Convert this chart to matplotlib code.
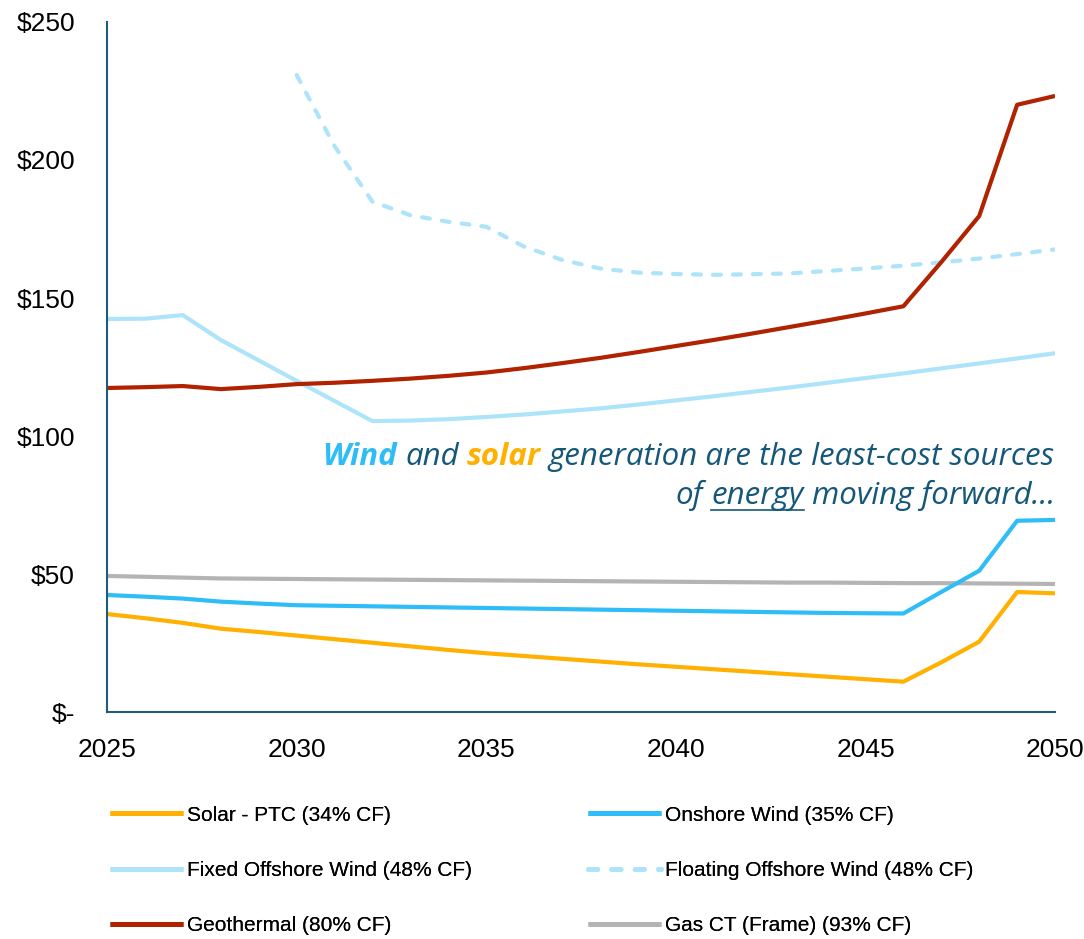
import matplotlib
matplotlib.use('Agg')
import matplotlib.pyplot as plt
from matplotlib.lines import Line2D

years = list(range(2025, 2051))

solar = [35.5, 34.0, 32.3, 30.2, 29.0, 27.7, 26.4, 25.1, 23.8, 22.5, 21.3, 20.3, 19.3,
         18.3, 17.3, 16.4, 15.5, 14.6, 13.7, 12.8, 11.9, 11.0, 18.0, 25.5, 43.5, 43.0]
onshore = [42.4, 41.8, 41.1, 40.0, 39.3, 38.7, 38.5, 38.3, 38.1, 37.9, 37.7, 37.5, 37.3,
           37.1, 36.9, 36.7, 36.5, 36.3, 36.1, 35.9, 35.8, 35.7, 43.5, 51.2, 69.3, 69.6]
fixed_off = [142.4, 142.5, 143.8, 134.8, 127.4, 120.0, 112.7, 105.4, 105.6, 106.1, 106.9,
             107.8, 108.9, 110.0, 111.4, 112.9, 114.4, 116.0, 117.6, 119.3, 121.0, 122.7,
             124.5, 126.3, 128.1, 130.0]
floating_years = list(range(2030, 2051))
floating_off = [230.8, 205.0, 184.9, 180.0, 177.6, 175.8, 168.6, 163.8, 160.7, 159.2, 158.7,
                158.4, 158.6, 158.9, 159.8, 160.7, 161.7, 162.9, 164.3, 165.9, 167.6]
geothermal = [117.4, 117.7, 118.1, 117.0, 117.8, 118.8, 119.3, 120.0, 120.8, 121.8, 123.0,
              124.6, 126.4, 128.3, 130.4, 132.6, 134.8, 137.1, 139.5, 141.9, 144.4, 147.0,
              163.0, 179.7, 220.0, 223.2]
gas = [49.3, 49.0, 48.7, 48.4, 48.3, 48.2, 48.1, 48.0, 47.9, 47.8, 47.7, 47.6, 47.5,
       47.4, 47.3, 47.2, 47.1, 47.0, 46.9, 46.9, 46.8, 46.7, 46.7, 46.6, 46.5, 46.4]

labels = ['Solar - PTC (34% CF)', 'Onshore Wind (35% CF)', 'Fixed Offshore Wind (48% CF)',
          'Floating Offshore Wind (48% CF)', 'Geothermal (80% CF)', 'Gas CT (Frame) (93% CF)']
colors = ['#FFB000', '#2EBDF6', '#AEE4FA', '#AEE4FA', '#B02200', '#B4B4B4']

yticks = [0, 50, 100, 150, 200, 250]
ytick_labels = ['$-', '$50', '$100', '$150', '$200', '$250']
xticks = [2025, 2030, 2035, 2040, 2045, 2050]

spine_col = '#1F5C7C'
text_col = '#155779'
dash = (1.9, 2.9)

fig = plt.figure(figsize=(10.84, 9.39), dpi=100)
ax = fig.add_axes([0.0987, 0.2417, 0.8746, 0.7349])

ax.plot(years, gas, color=colors[5], lw=3, solid_capstyle='butt')
ax.plot(years, solar, color=colors[0], lw=3, solid_capstyle='butt')
ax.plot(years, onshore, color=colors[1], lw=3, solid_capstyle='butt')
ax.plot(years, fixed_off, color=colors[2], lw=3, solid_capstyle='butt')
ax.plot(floating_years, floating_off, color=colors[3], lw=3, dashes=dash, dash_capstyle='round')
ax.plot(years, geothermal, color=colors[4], lw=3, solid_capstyle='butt')

ax.set_xlim(2025, 2050)
ax.set_ylim(0, 250)
ax.set_yticks(yticks)
ax.set_yticklabels(ytick_labels)
ax.set_xticks(xticks)
ax.tick_params(length=0, labelsize=19, colors='black')
ax.tick_params(axis='y', pad=23)
ax.tick_params(axis='x', pad=19)
for lab in ax.get_xticklabels() + ax.get_yticklabels():
    lab.set_fontfamily('Liberation Sans')
for s in ['top', 'right']:
    ax.spines[s].set_visible(False)
for s in ['left', 'bottom']:
    ax.spines[s].set_color(spine_col)
    ax.spines[s].set_linewidth(1.5)

# legend: two columns, placed by hand
handles = []
for i, lab in enumerate(labels):
    ls_kw = dict(dashes=dash, dash_capstyle='round') if i == 3 else dict(solid_capstyle='butt')
    handles.append(Line2D([], [], color=colors[i], lw=3.5, **ls_kw))
leg_font = {'family': 'Liberation Sans', 'size': 15}
for col, x0 in enumerate([0.094, 0.535]):
    idx = [col, col + 2, col + 4]
    leg = fig.legend([handles[k] for k in idx], [labels[k] for k in idx],
                     loc='upper left', bbox_to_anchor=(x0, 0.151), frameon=False,
                     prop=leg_font, handlelength=3.5, handletextpad=0.2,
                     labelspacing=1.75, borderaxespad=0)
    fig.add_artist(leg)

# annotation with mixed styles, built right to left
fig.canvas.draw()
r = fig.canvas.get_renderer()
ann_font = dict(family=['Open Sans', 'DejaVu Sans'], style='italic', size=22.5)


def text_width(s, **kw):
    t = fig.text(0, 0, s, **kw)
    w = t.get_window_extent(r).width
    t.remove()
    return w


space = text_width('a a', **ann_font) - text_width('aa', **ann_font)
W = fig.bbox.width


def rich_line(pieces, x_right, y):
    x = x_right
    for s, kw in reversed(pieces):
        t = fig.text(x, y, s, ha='right', va='baseline', **ann_font, **kw)
        bb = t.get_window_extent(r)
        if s == 'energy':
            uy = y - 6 / fig.bbox.height
            fig.add_artist(Line2D([bb.x0 / W, bb.x1 / W], [uy, uy], color=text_col, lw=1.2))
        x = (bb.x0 - space) / W


rich_line([('Wind', dict(color='#2EBDF6', weight='bold')),
           ('and', dict(color=text_col)),
           ('solar', dict(color='#FFB000', weight='bold')),
           ('generation are the least-cost sources', dict(color=text_col))],
          1055 / 1084, 1 - 465 / 939)
rich_line([('of', dict(color=text_col)),
           ('energy', dict(color=text_col)),
           ('moving forward...', dict(color=text_col))],
          1055 / 1084, 1 - 504 / 939)

fig.savefig('out.png', dpi=100)
